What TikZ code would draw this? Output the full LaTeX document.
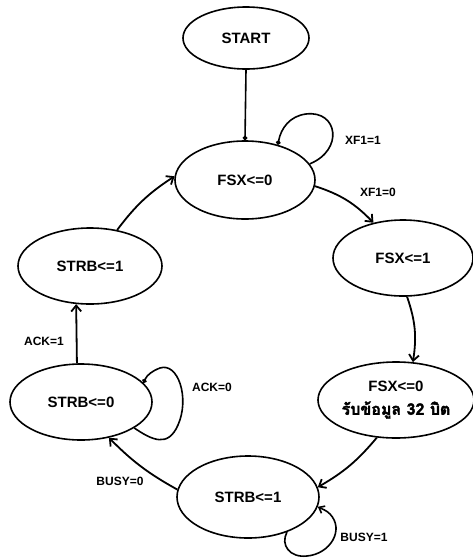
\documentclass[tikz,border=0pt]{standalone}
\usepackage{fontspec}
\setmainfont{Liberation Sans}
\newfontfamily\thaifont[Script=Thai, FakeBold=2.2]{Loma}
\usetikzlibrary{arrows.meta,shapes.geometric}

\tikzset{
  state/.style={draw, ellipse, line width=1.6pt, inner sep=0pt,
    font=\fontsize{15}{17}\selectfont\bfseries},
  lbl/.style={font=\fontsize{12}{13}\selectfont\bfseries, inner sep=0pt},
  link/.style={line width=1.8pt, -{Straight Barb[length=6pt,width=10pt,line width=1.8pt]}},
  dotlink/.style={line width=1.6pt, -{Circle[length=4.5pt]}},
}

\begin{document}
\begin{tikzpicture}[x=1pt, y=-1pt]
  \useasboundingbox (0,0) rectangle (473,558);

  % states
  \node[state, minimum width=126pt, minimum height=62pt] (start) at (246,38) {START};
  \node[state, minimum width=140pt, minimum height=78pt] (fsx0) at (245,180) {FSX<=0};
  \node[state, minimum width=140pt, minimum height=76pt] (fsx1) at (403,258) {FSX<=1};
  \node[state, minimum width=156pt, minimum height=76pt, align=center] (recv) at (396,400)
    {FSX<=0\\[6pt]{\thaifont\fontsize{16}{18}\selectfont รับข้อมูล 32 บิต}};
  \node[state, minimum width=142pt, minimum height=82pt] (strbB) at (248,497) {STRB<=1};
  \node[state, minimum width=142pt, minimum height=76pt] (strb0) at (81,402) {STRB<=0};
  \node[state, minimum width=144pt, minimum height=76pt] (strbA) at (90,266) {STRB<=1};

  % transitions
  \draw[dotlink] (start.south) -- (fsx0.north);

  \draw[dotlink] (fsx0.14) .. controls (344,150) and (338,110) .. (306,114)
                 .. controls (290,116) and (281,128) .. (fsx0.47);
  \node[lbl] (xf11) at (363,140) {XF1=1};

  \draw[link] (fsx0.-5) to[bend left=14] (fsx1.130);
  \node[lbl] (xf10) at (378,192) {XF1=0};

  \draw[link] (fsx1.-84) to[bend left=14] (recv.66);

  \draw[link] (recv.-117) to[bend left=10] (strbB.8);

  \draw[line width=1.6pt, -{Straight Barb[length=5pt,width=8pt,line width=1.6pt]}]
    (strbB.-42) .. controls (280,545) and (290,558) .. (307,556)
    .. controls (330,554) and (345,530) .. (330,514)
    .. controls (326,510) and (322,509) .. (strbB.-8);
  \node[lbl] (busy1) at (364,537) {BUSY=1};

  \draw[link] (strbB.174) to[bend left=8] (strb0.-52);
  \node[lbl] (busy0) at (120,481) {BUSY=0};

  \draw[dotlink] (strb0.-26) .. controls (152,440) and (168,448) .. (178,425)
                 .. controls (190,398) and (178,362) .. (160,368)
                 .. controls (152,371) and (147,375) .. (strb0.17);
  \node[lbl] (ack0) at (212,387) {ACK=0};

  \draw[link] (strb0.96) -- (strbA.-110);
  \node[lbl] (ack1) at (44,341) {ACK=1};

  \draw[link] (strbA.53) to[bend left=10] (fsx0.177);
\end{tikzpicture}
\end{document}
